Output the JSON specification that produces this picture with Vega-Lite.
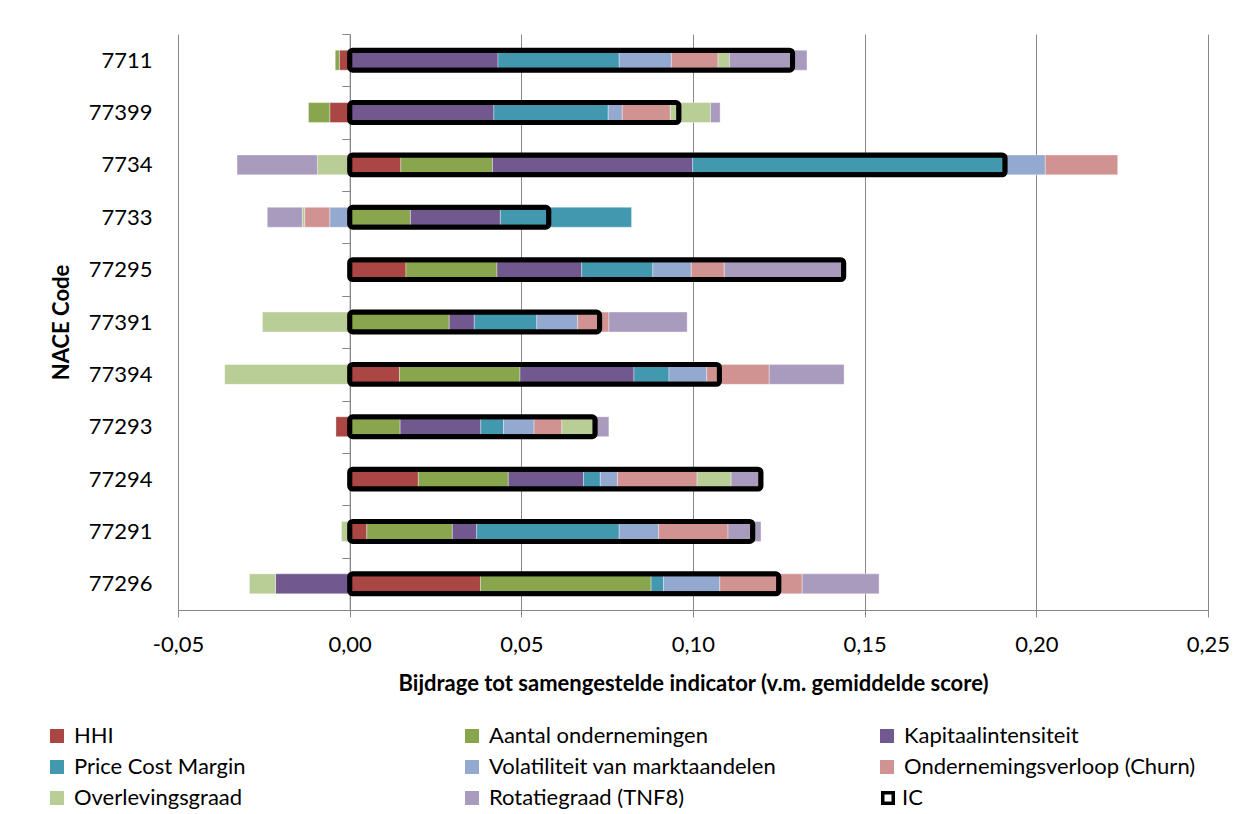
{
  "$schema": "https://vega.github.io/schema/vega-lite/v6.json",
  "autosize": {"type": "none"},
  "width": 1030,
  "height": 576,
  "padding": {"left": 178, "top": 34, "right": 49, "bottom": 204},
  "background": "white",
  "config": {"font": "Lato", "view": {"stroke": null}},
  "datasets": {
    "parts": [
      {"code": "7711", "series": "HHI", "value": -0.0030},
      {"code": "7711", "series": "Aantal ondernemingen", "value": -0.0012},
      {"code": "7711", "series": "Kapitaalintensiteit", "value": 0.0432},
      {"code": "7711", "series": "Price Cost Margin", "value": 0.0353},
      {"code": "7711", "series": "Volatiliteit van marktaandelen", "value": 0.0152},
      {"code": "7711", "series": "Ondernemingsverloop (Churn)", "value": 0.0136},
      {"code": "7711", "series": "Overlevingsgraad", "value": 0.0033},
      {"code": "7711", "series": "Rotatiegraad (TNF8)", "value": 0.0226},

      {"code": "77399", "series": "HHI", "value": -0.0058},
      {"code": "77399", "series": "Aantal ondernemingen", "value": -0.0062},
      {"code": "77399", "series": "Kapitaalintensiteit", "value": 0.0420},
      {"code": "77399", "series": "Price Cost Margin", "value": 0.0333},
      {"code": "77399", "series": "Volatiliteit van marktaandelen", "value": 0.0041},
      {"code": "77399", "series": "Ondernemingsverloop (Churn)", "value": 0.0140},
      {"code": "77399", "series": "Overlevingsgraad", "value": 0.0117},
      {"code": "77399", "series": "Rotatiegraad (TNF8)", "value": 0.0028},

      {"code": "7734", "series": "HHI", "value": 0.0149},
      {"code": "7734", "series": "Aantal ondernemingen", "value": 0.0267},
      {"code": "7734", "series": "Kapitaalintensiteit", "value": 0.0583},
      {"code": "7734", "series": "Price Cost Margin", "value": 0.0905},
      {"code": "7734", "series": "Volatiliteit van marktaandelen", "value": 0.0122},
      {"code": "7734", "series": "Ondernemingsverloop (Churn)", "value": 0.0211},
      {"code": "7734", "series": "Overlevingsgraad", "value": -0.0094},
      {"code": "7734", "series": "Rotatiegraad (TNF8)", "value": -0.0234},

      {"code": "7733", "series": "HHI", "value": 0.0004},
      {"code": "7733", "series": "Aantal ondernemingen", "value": 0.0173},
      {"code": "7733", "series": "Kapitaalintensiteit", "value": 0.0262},
      {"code": "7733", "series": "Price Cost Margin", "value": 0.0382},
      {"code": "7733", "series": "Volatiliteit van marktaandelen", "value": -0.0058},
      {"code": "7733", "series": "Ondernemingsverloop (Churn)", "value": -0.0073},
      {"code": "7733", "series": "Overlevingsgraad", "value": -0.0007},
      {"code": "7733", "series": "Rotatiegraad (TNF8)", "value": -0.0102},

      {"code": "77295", "series": "HHI", "value": 0.0164},
      {"code": "77295", "series": "Aantal ondernemingen", "value": 0.0265},
      {"code": "77295", "series": "Kapitaalintensiteit", "value": 0.0247},
      {"code": "77295", "series": "Price Cost Margin", "value": 0.0207},
      {"code": "77295", "series": "Volatiliteit van marktaandelen", "value": 0.0112},
      {"code": "77295", "series": "Ondernemingsverloop (Churn)", "value": 0.0096},
      {"code": "77295", "series": "Rotatiegraad (TNF8)", "value": 0.0348},

      {"code": "77391", "series": "Aantal ondernemingen", "value": 0.0290},
      {"code": "77391", "series": "Kapitaalintensiteit", "value": 0.0073},
      {"code": "77391", "series": "Price Cost Margin", "value": 0.0182},
      {"code": "77391", "series": "Volatiliteit van marktaandelen", "value": 0.0119},
      {"code": "77391", "series": "Ondernemingsverloop (Churn)", "value": 0.0091},
      {"code": "77391", "series": "Overlevingsgraad", "value": -0.0254},
      {"code": "77391", "series": "Rotatiegraad (TNF8)", "value": 0.0228},

      {"code": "77394", "series": "HHI", "value": 0.0145},
      {"code": "77394", "series": "Aantal ondernemingen", "value": 0.0351},
      {"code": "77394", "series": "Kapitaalintensiteit", "value": 0.0332},
      {"code": "77394", "series": "Price Cost Margin", "value": 0.0102},
      {"code": "77394", "series": "Volatiliteit van marktaandelen", "value": 0.0110},
      {"code": "77394", "series": "Ondernemingsverloop (Churn)", "value": 0.0182},
      {"code": "77394", "series": "Overlevingsgraad", "value": -0.0364},
      {"code": "77394", "series": "Rotatiegraad (TNF8)", "value": 0.0218},

      {"code": "77293", "series": "HHI", "value": -0.0040},
      {"code": "77293", "series": "Aantal ondernemingen", "value": 0.0147},
      {"code": "77293", "series": "Kapitaalintensiteit", "value": 0.0235},
      {"code": "77293", "series": "Price Cost Margin", "value": 0.0066},
      {"code": "77293", "series": "Volatiliteit van marktaandelen", "value": 0.0089},
      {"code": "77293", "series": "Ondernemingsverloop (Churn)", "value": 0.0081},
      {"code": "77293", "series": "Overlevingsgraad", "value": 0.0092},
      {"code": "77293", "series": "Rotatiegraad (TNF8)", "value": 0.0045},

      {"code": "77294", "series": "HHI", "value": 0.0200},
      {"code": "77294", "series": "Aantal ondernemingen", "value": 0.0262},
      {"code": "77294", "series": "Kapitaalintensiteit", "value": 0.0219},
      {"code": "77294", "series": "Price Cost Margin", "value": 0.0049},
      {"code": "77294", "series": "Volatiliteit van marktaandelen", "value": 0.0050},
      {"code": "77294", "series": "Ondernemingsverloop (Churn)", "value": 0.0232},
      {"code": "77294", "series": "Overlevingsgraad", "value": 0.0099},
      {"code": "77294", "series": "Rotatiegraad (TNF8)", "value": 0.0086},

      {"code": "77291", "series": "HHI", "value": 0.0050},
      {"code": "77291", "series": "Aantal ondernemingen", "value": 0.0249},
      {"code": "77291", "series": "Kapitaalintensiteit", "value": 0.0071},
      {"code": "77291", "series": "Price Cost Margin", "value": 0.0415},
      {"code": "77291", "series": "Volatiliteit van marktaandelen", "value": 0.0115},
      {"code": "77291", "series": "Ondernemingsverloop (Churn)", "value": 0.0202},
      {"code": "77291", "series": "Overlevingsgraad", "value": -0.0024},
      {"code": "77291", "series": "Rotatiegraad (TNF8)", "value": 0.0096},

      {"code": "77296", "series": "HHI", "value": 0.0381},
      {"code": "77296", "series": "Aantal ondernemingen", "value": 0.0497},
      {"code": "77296", "series": "Kapitaalintensiteit", "value": -0.0216},
      {"code": "77296", "series": "Price Cost Margin", "value": 0.0036},
      {"code": "77296", "series": "Volatiliteit van marktaandelen", "value": 0.0164},
      {"code": "77296", "series": "Ondernemingsverloop (Churn)", "value": 0.0240},
      {"code": "77296", "series": "Overlevingsgraad", "value": -0.0076},
      {"code": "77296", "series": "Rotatiegraad (TNF8)", "value": 0.0224}
    ],
    "ic": [
      {"code": "7711", "ic": 0.1290, "name": "IC"},
      {"code": "77399", "ic": 0.0959, "name": "IC"},
      {"code": "7734", "ic": 0.1909, "name": "IC"},
      {"code": "7733", "ic": 0.0580, "name": "IC"},
      {"code": "77295", "ic": 0.1439, "name": "IC"},
      {"code": "77391", "ic": 0.0728, "name": "IC"},
      {"code": "77394", "ic": 0.1077, "name": "IC"},
      {"code": "77293", "ic": 0.0715, "name": "IC"},
      {"code": "77294", "ic": 0.1198, "name": "IC"},
      {"code": "77291", "ic": 0.1174, "name": "IC"},
      {"code": "77296", "ic": 0.1250, "name": "IC"}
    ]
  },
  "layer": [
    {
      "data": {"name": "parts"},
      "transform": [
        {"calculate": "indexof(['HHI','Aantal ondernemingen','Kapitaalintensiteit','Price Cost Margin','Volatiliteit van marktaandelen','Ondernemingsverloop (Churn)','Overlevingsgraad','Rotatiegraad (TNF8)'], datum.series)", "as": "k"}
      ],
      "mark": {"type": "bar", "height": {"band": 0.38}, "stroke": "white", "strokeWidth": 0.5, "strokeOpacity": 0.7},
      "encoding": {
        "y": {
          "field": "code", "type": "nominal",
          "sort": ["7711", "77399", "7734", "7733", "77295", "77391", "77394", "77293", "77294", "77291", "77296"],
          "scale": {"paddingInner": 0, "paddingOuter": 0},
          "axis": {
            "title": "NACE Code", "titleFont": "Lato", "titleFontSize": 22, "titleFontWeight": "bold", "titleColor": "black",
            "titleX": -287.7, "titleY": 288, "titleAngle": 270, "titleAlign": "center", "titleBaseline": "middle",
            "labelFontSize": 22, "labelColor": "black", "labelPadding": 189.7, "offset": -171.67,
            "domain": true, "domainColor": "#888888", "domainWidth": 1,
            "ticks": true, "tickBand": "extent", "tickSize": 8, "tickColor": "#888888", "grid": false
          }
        },
        "x": {
          "field": "value", "type": "quantitative", "stack": "zero",
          "scale": {"domain": [-0.05, 0.25], "nice": false, "zero": false},
          "axis": {
            "title": "Bijdrage tot samengestelde indicator (v.m. gemiddelde score)",
            "values": [-0.05, 0, 0.05, 0.1, 0.15, 0.2, 0.25],
            "labelExpr": "replace(replace(format(datum.value, '.2f'), '.', ','), '\u2212', '-')",
            "labelFontSize": 22, "labelColor": "black", "labelFlush": false,
            "grid": true, "gridColor": "#888888", "gridOpacity": 1, "gridWidth": 1,
            "domainColor": "#888888", "tickColor": "#888888", "tickSize": 7, "labelPadding": 17,
            "titleFontSize": 22, "titleFontWeight": "bold", "titleColor": "black", "titlePadding": 18
          }
        },
        "color": {
          "field": "series", "type": "nominal",
          "scale": {
            "domain": ["HHI", "Aantal ondernemingen", "Kapitaalintensiteit", "Price Cost Margin", "Volatiliteit van marktaandelen", "Ondernemingsverloop (Churn)", "Overlevingsgraad", "Rotatiegraad (TNF8)"],
            "range": ["#AA4643", "#89A54E", "#71588F", "#4198AF", "#93A9CF", "#D19392", "#B9CD96", "#A99BBD"]
          },
          "legend": {
            "orient": "none", "legendX": -132, "legendY": 691, "columns": 3, "direction": "horizontal", "title": null,
            "symbolType": "square", "symbolSize": 196, "symbolStrokeWidth": 0,
            "labelFontSize": 22, "labelColor": "black", "labelLimit": 500, "labelOffset": 6,
            "gridAlign": "all", "columnPadding": 95, "rowPadding": 9, "padding": 0
          }
        },
        "order": {"field": "k", "type": "quantitative"}
      }
    },
    {
      "data": {"name": "ic"},
      "mark": {"type": "bar", "height": {"band": 0.38}, "fillOpacity": 0, "stroke": "black", "strokeWidth": 5, "cornerRadius": 3, "strokeJoin": "round"},
      "encoding": {
        "y": {
          "field": "code", "type": "nominal",
          "sort": ["7711", "77399", "7734", "7733", "77295", "77391", "77394", "77293", "77294", "77291", "77296"]
        },
        "x": {"field": "ic", "type": "quantitative", "title": "Bijdrage tot samengestelde indicator (v.m. gemiddelde score)"}
      }
    },
    {
      "data": {"name": "ic"},
      "mark": {"type": "point", "shape": "square", "filled": false, "size": 0, "opacity": 1, "strokeWidth": 3.5},
      "encoding": {
        "y": {
          "field": "code", "type": "nominal",
          "sort": ["7711", "77399", "7734", "7733", "77295", "77391", "77394", "77293", "77294", "77291", "77296"]
        },
        "x": {"field": "ic", "type": "quantitative", "title": "Bijdrage tot samengestelde indicator (v.m. gemiddelde score)"},
        "stroke": {
          "field": "name", "type": "nominal",
          "scale": {"domain": ["IC"], "range": ["black"]},
          "legend": {
            "orient": "none", "legendX": 699, "legendY": 753, "title": null,
            "symbolType": "square", "symbolSize": 110, "symbolStrokeWidth": 3.5, "symbolFillColor": "white", "symbolOpacity": 1,
            "labelFontSize": 22, "labelColor": "black", "labelOffset": 3, "padding": 0
          }
        }
      }
    }
  ]
}
